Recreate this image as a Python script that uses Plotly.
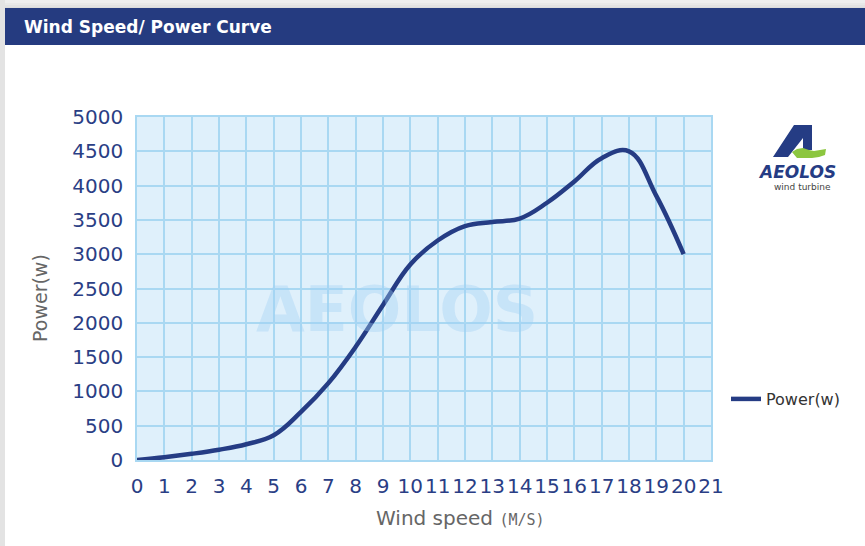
import plotly.graph_objects as go

# ---- data ----
wind_speed = list(range(0, 21))
power_w = [0, 40, 90, 150, 230, 360, 700, 1120, 1650, 2260, 2850,
           3200, 3410, 3470, 3520, 3750, 4060, 4400, 4500, 3850, 3000]
x_ticks = list(range(0, 22))
y_ticks = list(range(0, 5001, 500))

W, H = 865, 546
L, R, T, B = 137, 711, 117, 460  # plot area in pixels


def px(x):
    return (x - L) / (R - L)


def py(y):
    return (B - y) / (B - T)


fig = go.Figure()
fig.add_trace(go.Scatter(
    x=wind_speed, y=power_w, name="Power(w)", mode="lines",
    line=dict(color="#253c84", width=4.5, shape="spline", smoothing=1.15),
))

shapes = []
# top grey shadow and left strip
for i, c in enumerate(["#dcdcdc", "#e2e2e2", "#e8e8e8", "#eeeeee"]):
    shapes.append(dict(type="rect", xref="paper", yref="paper", x0=px(0), x1=px(W), y0=py(0), y1=py(9 - i * 2),
                       fillcolor=c, line_width=0, layer="below"))
shapes.append(dict(type="rect", xref="paper", yref="paper", x0=px(0), x1=px(5), y0=py(0), y1=py(H),
                   fillcolor="#e3e3e3", line_width=0, layer="below"))
# header band
shapes.append(dict(type="rect", xref="paper", yref="paper", x0=px(5), x1=px(W), y0=py(8), y1=py(45),
                   fillcolor="#253b80", line_width=0, layer="below"))


def path(points):
    return "M " + " L ".join(f"{px(a):.5f},{py(b):.5f}" for a, b in points) + " Z"


# logo "A" glyph
shapes.append(dict(type="path", xref="paper", yref="paper",
                   path=path([(773, 157), (794, 125), (812, 125), (812, 150), (803, 150),
                              (803, 138), (788, 157)]),
                   fillcolor="#253c84", line_width=0))
# green swoosh
shapes.append(dict(type="path", xref="paper", yref="paper",
                   path=path([(792, 152), (797, 149), (803, 148), (809, 150), (814, 151), (820, 150), (826, 149),
                              (825, 155), (819, 157), (812, 158), (803, 158), (797, 158)]),
                   fillcolor="#8cc63f", line_width=0))

annotations = [
    dict(text="<b>Wind Speed/ Power Curve</b>", x=px(22), y=py(27), xref="paper", yref="paper",
         xanchor="left", yanchor="middle", showarrow=False,
         font=dict(family="DejaVu Sans", size=17, color="white")),
    dict(text="<b>AEOLOS</b>", x=px(397), y=py(309), xref="paper", yref="paper",
         xanchor="center", yanchor="middle", showarrow=False,
         font=dict(family="DejaVu Sans", size=63, color="rgba(160,208,245,0.38)")),
    dict(text="<b><i>AEOLOS</i></b>", x=px(797), y=py(172), xref="paper", yref="paper",
         xanchor="center", yanchor="middle", showarrow=False,
         font=dict(family="DejaVu Sans", size=17, color="#253c84")),
    dict(text="wind turbine", x=px(802), y=py(187), xref="paper", yref="paper",
         xanchor="center", yanchor="middle", showarrow=False,
         font=dict(family="DejaVu Sans", size=9, color="#444")),
    dict(text="Wind speed <span style='font-size:15px;font-family:DejaVu Sans Mono'>(M/S)</span>",
         x=px(460), y=py(518), xref="paper", yref="paper",
         xanchor="center", yanchor="middle", showarrow=False,
         font=dict(family="DejaVu Sans", size=20, color="#666")),
    dict(text="Power(w)", x=px(40), y=py(298), xref="paper", yref="paper", textangle=-90,
         xanchor="center", yanchor="middle", showarrow=False,
         font=dict(family="DejaVu Sans", size=19, color="#666")),
]

fig.update_layout(
    width=W, height=H,
    margin=dict(l=L, r=W - R, t=T, b=H - B, pad=0),
    paper_bgcolor="white", plot_bgcolor="#dff0fb",
    shapes=shapes, annotations=annotations,
    showlegend=True,
    legend=dict(x=px(726), y=py(399), xref="paper", yref="paper", xanchor="left", yanchor="middle",
                bgcolor="rgba(0,0,0,0)", font=dict(family="DejaVu Sans", size=16, color="#333")),
    xaxis=dict(range=[0, 21], tickvals=x_ticks, ticktext=[str(v) for v in x_ticks], tickangle=0,
               showgrid=True, gridcolor="#a9d8f2", gridwidth=1.5, zeroline=False,
               showline=True, linecolor="#a9d8f2", linewidth=1.5, mirror=True, ticks="",
               ticklabelstandoff=7,
               tickfont=dict(family="DejaVu Sans", size=20, color="#2a3e85")),
    yaxis=dict(range=[0, 5000], tickvals=y_ticks, ticktext=[str(v) for v in y_ticks],
               showgrid=True, gridcolor="#a9d8f2", gridwidth=1.5, zeroline=False,
               showline=True, linecolor="#a9d8f2", linewidth=1.5, mirror=True, ticks="",
               ticklabelstandoff=8,
               tickfont=dict(family="DejaVu Sans", size=20, color="#2a3e85")),
)

fig.write_html("out.html", config={"displayModeBar": False},
               post_script="document.body.style.margin='0px';")
